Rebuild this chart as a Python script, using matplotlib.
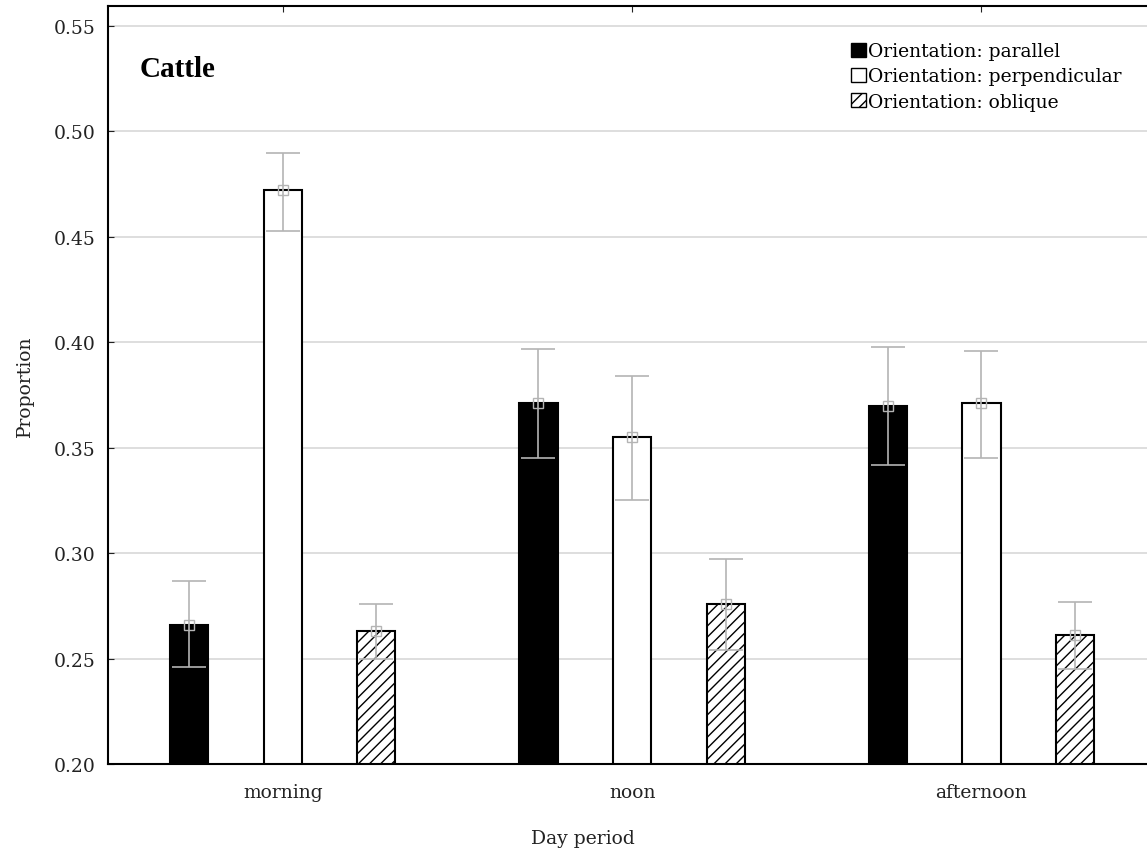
import numpy as np
import matplotlib
matplotlib.use('Agg')
import matplotlib.pyplot as plt
from matplotlib.patches import Patch

plt.rcParams['font.family'] = ['DejaVu Serif']
plt.rcParams['hatch.linewidth'] = 1.0

# Data
periods = ['morning', 'noon', 'afternoon']
series = ['Orientation: parallel', 'Orientation: perpendicular', 'Orientation: oblique']
means = [
    [0.266, 0.371, 0.370],   # parallel
    [0.472, 0.355, 0.371],   # perpendicular
    [0.263, 0.276, 0.261],   # oblique
]
upper = [
    [0.287, 0.397, 0.398],
    [0.490, 0.384, 0.396],
    [0.276, 0.297, 0.277],
]
lower = [
    [0.246, 0.345, 0.342],
    [0.453, 0.325, 0.345],
    [0.250, 0.254, 0.245],
]
fills = ['black', 'white', 'white']
hatches = [None, None, '///']

fig = plt.figure(figsize=(11.47, 8.54), dpi=100)
ax = fig.add_axes([0.0942, 0.1042, 0.9138, 0.8876])

x = np.arange(len(periods))
offset = 0.268
width = 0.109
gray = '#b4b4b4'

for i in range(3):
    xs = x + (i - 1) * offset
    ax.bar(xs, np.array(means[i]) - 0.2, bottom=0.2, width=width,
           color=fills[i], edgecolor='black', linewidth=1.5, hatch=hatches[i], zorder=3)
    m = np.array(means[i])
    err = [m - np.array(lower[i]), np.array(upper[i]) - m]
    ax.errorbar(xs, m, yerr=err, fmt='s', color=gray, ecolor=gray, mfc='none',
                mec=gray, ms=7, elinewidth=1.2, capsize=12, capthick=1.2, zorder=4)

ax.set_xlim(-0.5, 2.5)
ax.set_ylim(0.20, 0.5595)
ax.set_yticks([0.20, 0.25, 0.30, 0.35, 0.40, 0.45, 0.50, 0.55])
ax.set_yticklabels(['%.2f' % v for v in ax.get_yticks()])
ax.set_xticks(x)
ax.set_xticklabels(periods)
ax.tick_params(direction='in', length=4, labelsize=13.5, top=True, right=False, colors='#222222')
ax.tick_params(axis='x', pad=14)
ax.tick_params(axis='y', pad=9)
ax.grid(axis='y', color='#d8d8d8', linewidth=1.2, zorder=0)
ax.set_axisbelow(True)
for s in ax.spines.values():
    s.set_linewidth(1.5)

ax.set_xlabel('Day period', fontsize=13.5, labelpad=20, color='#222222')
ax.xaxis.label.set_x(0.453)
ax.set_ylabel('Proportion', fontsize=13.5, labelpad=14, color='#222222')
ax.text(0.030, 0.917, 'Cattle', transform=ax.transAxes, fontsize=21, fontweight='bold',
        family='Liberation Serif', va='center', ha='left')

handles = [Patch(facecolor=fills[i], edgecolor='black', hatch=hatches[i]) for i in range(3)]
ax.legend(handles, series, loc='upper left', bbox_to_anchor=(0.702, 0.962), frameon=False,
          fontsize=13.5, handlelength=0.8, handleheight=0.8, handletextpad=0.1,
          labelspacing=0.38, borderaxespad=0)

fig.savefig('out.png', dpi=100)
